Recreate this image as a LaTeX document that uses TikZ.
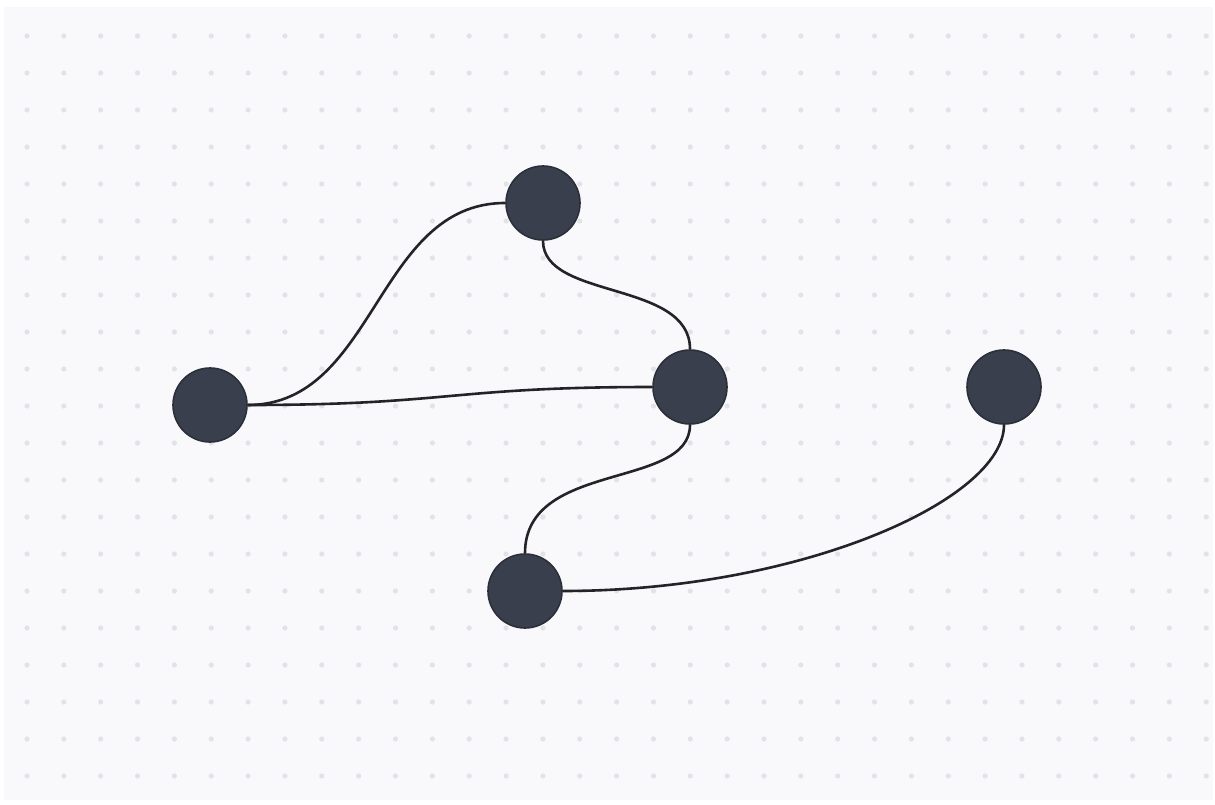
\documentclass[tikz,border=0pt]{standalone}
\pgfdeclarelayer{bg}
\pgfdeclarelayer{edges}
\pgfsetlayers{bg,edges,main}
\begin{document}
\begin{tikzpicture}[x=1pt,y=-1pt,
  vertex/.style={circle,minimum size=74pt,inner sep=0pt,fill=nodefill,draw=nodeline,line width=1.6pt},
  link/.style={draw=edgecol,line width=2.6pt}]
\definecolor{panel}{HTML}{F9F9FB}
\definecolor{dotcol}{HTML}{E2E2E8}
\definecolor{nodefill}{HTML}{393F4C}
\definecolor{nodeline}{HTML}{2A2F3A}
\definecolor{edgecol}{HTML}{222428}
\useasboundingbox (0,0) rectangle (1215,805);
\begin{pgfonlayer}{bg}
\fill[white] (0,0) rectangle (1215,805);
\fill[panel] (4,7) rectangle (1213,800);
\foreach \i in {0,...,32}{
  \foreach \j in {0,...,20}{
    \fill[dotcol] ({27+\i*36.85},{36+\j*37}) circle (2.6pt);
  }
}
\end{pgfonlayer}
\node[vertex] (A) at (210,405) {};
\node[vertex] (B) at (543,203) {};
\node[vertex] (C) at (690,387) {};
\node[vertex] (D) at (1004,387) {};
\node[vertex] (E) at (525,591) {};
\begin{pgfonlayer}{edges}
\path[link] (A.east) .. controls (376,405) and (376,203) .. (B.west);
\path[link] (A.east) .. controls (450,405) and (450,387) .. (C.west);
\path[link] (B.south) .. controls (543,300) and (690,280) .. (C.north);
\path[link] (C.south) .. controls (690,490) and (525,460) .. (E.north);
\path[link] (E.east) .. controls (800,591) and (1004,500) .. (D.south);
\end{pgfonlayer}
\end{tikzpicture}
\end{document}
